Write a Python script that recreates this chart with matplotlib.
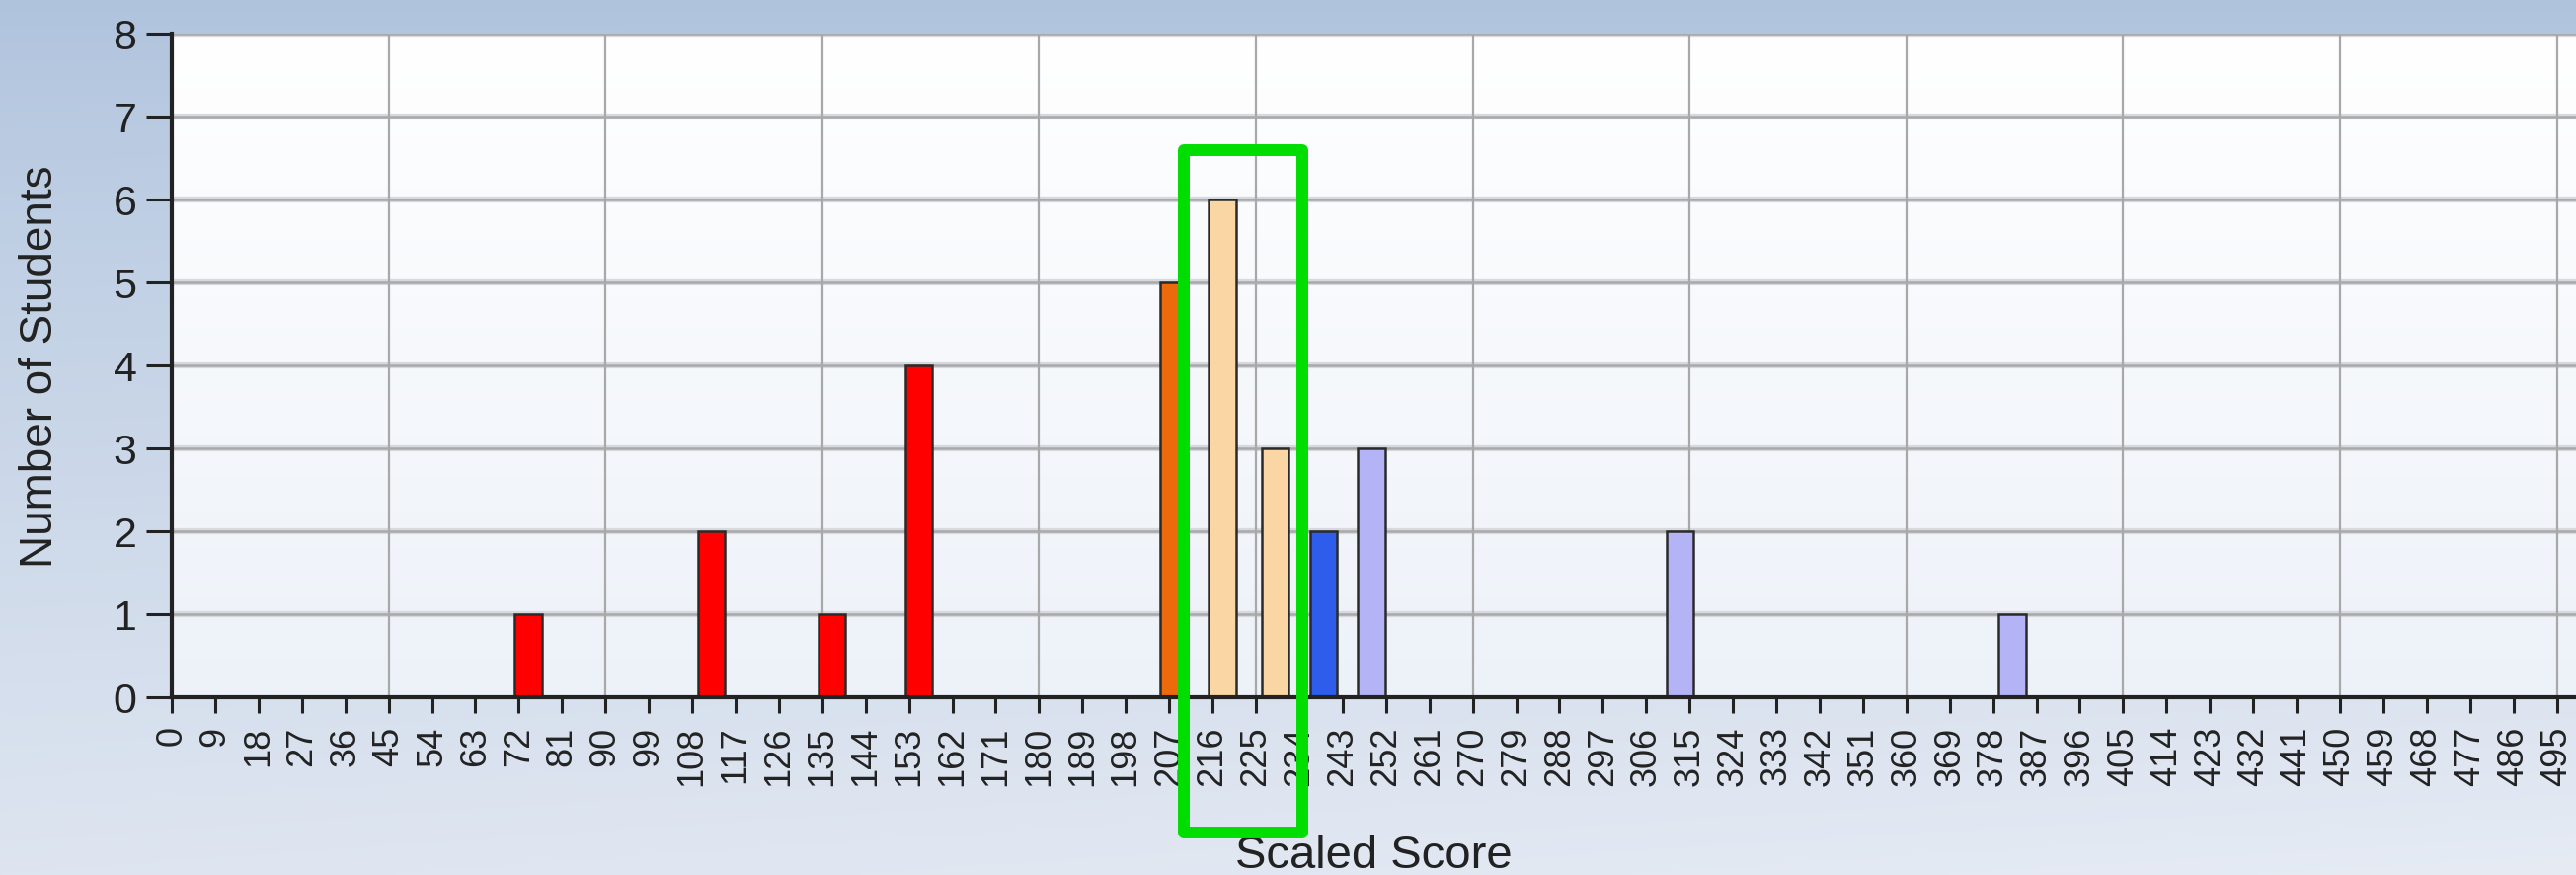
import numpy as np
import matplotlib
matplotlib.use("Agg")
import matplotlib.pyplot as plt
from matplotlib.patches import Rectangle
from matplotlib.colors import to_rgb

# ---- data ----
score_positions = [74, 112, 137, 155, 208, 218, 229, 239, 249, 313, 382]
student_counts = [1, 2, 1, 4, 5, 6, 3, 2, 3, 2, 1]
bar_colors = ['#FF0000', '#FF0000', '#FF0000', '#FF0000', '#EC6A0C',
              '#F9D6A3', '#F9D6A3', '#2E5CEB', '#B3B3F5', '#B3B3F5', '#B3B3F5']
x_tick_values = list(range(0, 496, 9))
x_tick_labels = [str(v) for v in x_tick_values]
y_tick_values = list(range(0, 9))
x_grid_values = list(range(45, 496, 45))
highlight_x = (210.0, 234.6)
highlight_y = (-1.63, 6.59)

plt.rcParams['font.family'] = ['Liberation Sans', 'DejaVu Sans']

W, H = 2609, 887
fig = plt.figure(figsize=(W / 100, H / 100), dpi=100)

# figure background gradient
bg = fig.add_axes([0, 0, 1, 1], zorder=-10)
top_c = np.array(to_rgb('#AFC3DD'))
bot_c = np.array(to_rgb('#E6EBF4'))
yy = np.linspace(0, 1, 300)[:, None]
xx = np.linspace(0, 1, 300)[None, :]
t = np.clip(0.85 * yy ** 0.8 + 0.15 * xx * yy, 0, 1)
img = top_c[None, None, :] * (1 - t[..., None]) + bot_c[None, None, :] * t[..., None]
bg.imshow(img, aspect='auto', extent=[0, 1, 1, 0])
bg.set_axis_off()

left = 174 / W
bottom = (H - 707) / H
top = (H - 35) / H
ax = fig.add_axes([left, bottom, 1 - left, top - bottom])
ax.set_facecolor('none')
x_max = (W - 174) / 4.88
ax.set_xlim(0, x_max)
ax.set_ylim(0, 8)

# plot area gradient
pa_top = np.array(to_rgb('#FFFFFF'))
pa_bot = np.array(to_rgb('#EDF2F9'))
g = np.linspace(0, 1, 200)[:, None]
pimg = pa_top[None, None, :] * (1 - g[..., None]) + pa_bot[None, None, :] * g[..., None]
pimg = np.repeat(pimg, 2, axis=1)
ax.imshow(pimg, aspect='auto', extent=[0, x_max, 0, 8], zorder=0)

# gridlines
for yv in y_tick_values[1:]:
    ax.axhline(yv, color='#D6D9DE', lw=4.5, zorder=1)
    ax.axhline(yv, color='#A9A9A9', lw=1.8, zorder=1.1)
for xv in x_grid_values:
    ax.axvline(xv, color='#A8A8A8', lw=1.6, zorder=1)

# bars
ax.bar(score_positions, student_counts, width=5.6, color=bar_colors,
       edgecolor='#2A2A2A', linewidth=1.8, zorder=3)

# highlight box
rect = Rectangle((highlight_x[0], highlight_y[0]),
                 highlight_x[1] - highlight_x[0], highlight_y[1] - highlight_y[0],
                 fill=False, edgecolor='#00DD00', linewidth=8.6,
                 joinstyle='round', clip_on=False, zorder=6)
ax.add_patch(rect)

# spines
for s in ['top', 'right']:
    ax.spines[s].set_visible(False)
for s in ['left', 'bottom']:
    ax.spines[s].set_color('#222222')
    ax.spines[s].set_linewidth(3)
    ax.spines[s].set_zorder(4)

ax.set_xticks(x_tick_values)
ax.set_xticklabels(x_tick_labels, rotation=90, fontsize=26, color='#222222')
ax.set_yticks(y_tick_values)
ax.set_yticklabels([str(v) for v in y_tick_values], fontsize=31, color='#222222')
ax.tick_params(axis='x', length=11.5, width=2.2, color='#222222', pad=9)
ax.tick_params(axis='y', length=18.5, width=2.2, color='#222222', pad=7)

ax.set_xlabel('Scaled Score', fontsize=34, color='#222222', va='top')
ax.xaxis.set_label_coords(0.5, -0.205)
ax.set_ylabel('Number of Students', fontsize=33, color='#222222', va='center')
ax.yaxis.set_label_coords(-0.0546, 0.5)

fig.savefig('out.png', dpi=100)
